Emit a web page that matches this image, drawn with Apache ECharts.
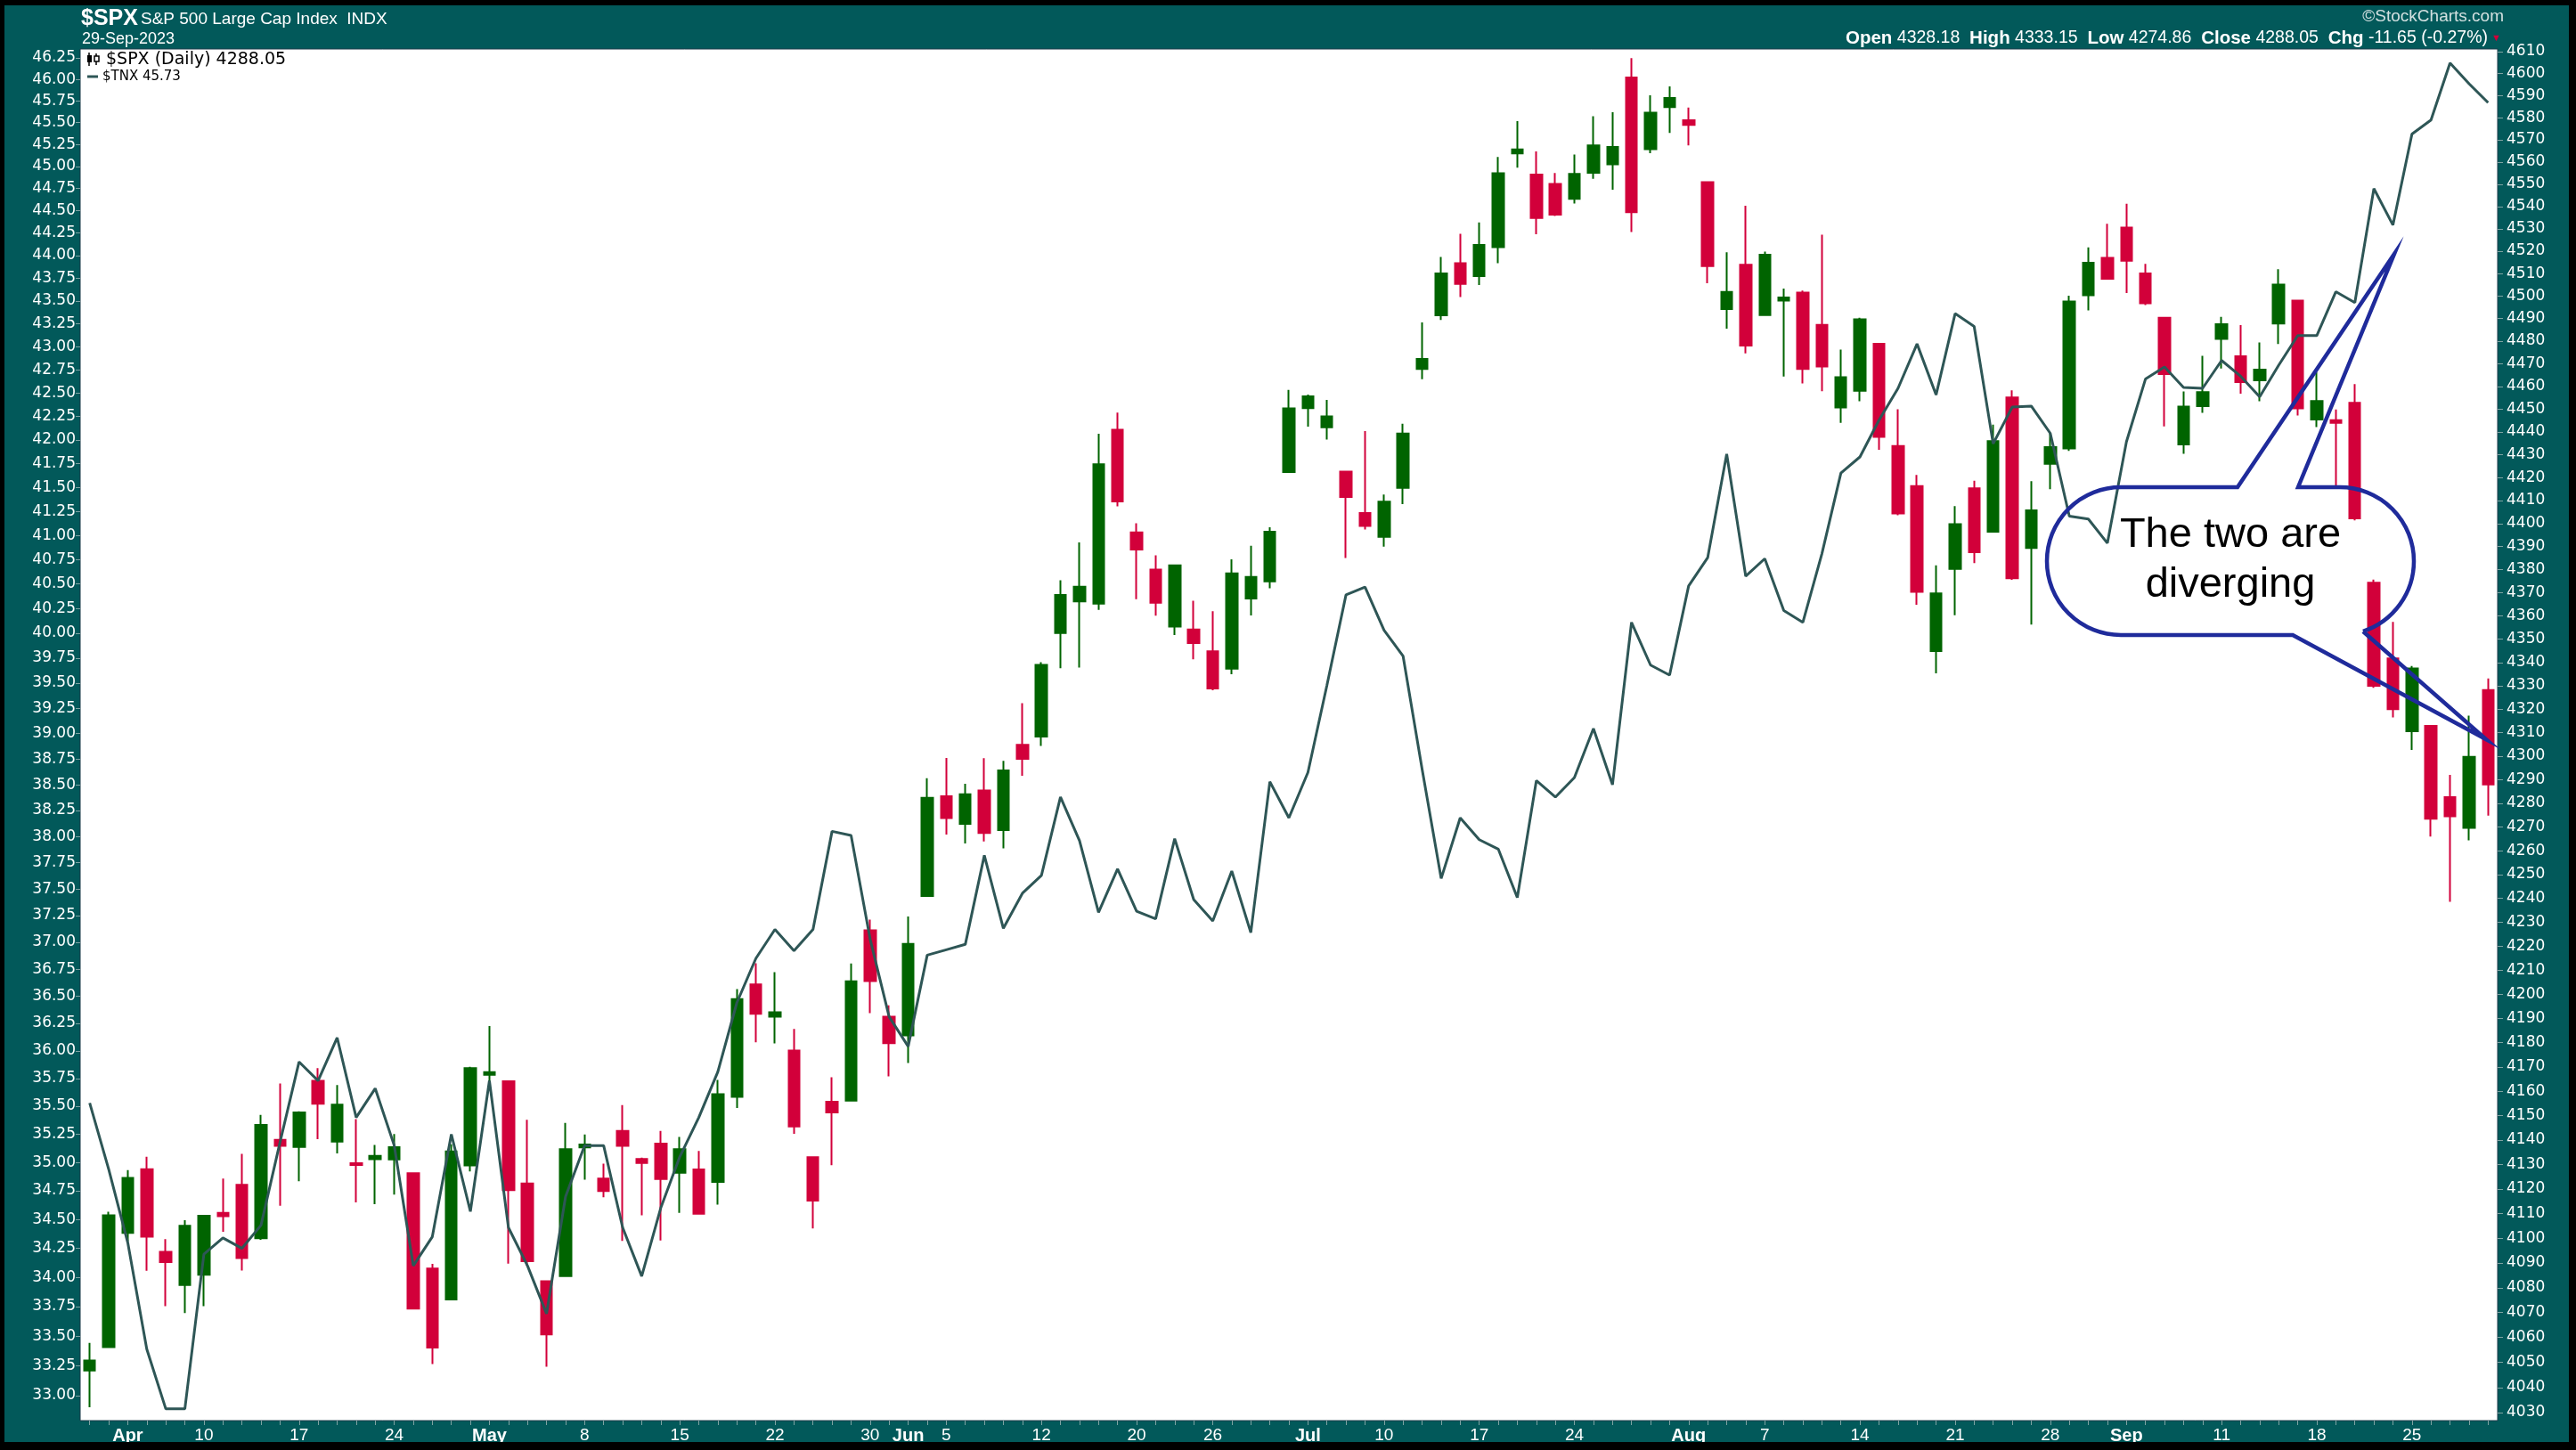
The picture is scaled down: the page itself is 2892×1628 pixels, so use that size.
<!DOCTYPE html>
<html><head><meta charset="utf-8">
<script src="https://cdn.jsdelivr.net/npm/echarts@6/dist/echarts.min.js"></script>
<style>html,body{margin:0;padding:0;background:#000;}#c{width:2892px;height:1628px;}</style>
</head><body><div id="c"></div>
<script>
const dates = ['2023-03-30','2023-03-31','2023-04-03','2023-04-04','2023-04-05','2023-04-06','2023-04-10','2023-04-11','2023-04-12','2023-04-13','2023-04-14','2023-04-17','2023-04-18','2023-04-19','2023-04-20','2023-04-21','2023-04-24','2023-04-25','2023-04-26','2023-04-27','2023-04-28',
'2023-05-01','2023-05-02','2023-05-03','2023-05-04','2023-05-05','2023-05-08','2023-05-09','2023-05-10','2023-05-11','2023-05-12','2023-05-15','2023-05-16','2023-05-17','2023-05-18','2023-05-19','2023-05-22','2023-05-23','2023-05-24','2023-05-25','2023-05-26','2023-05-30','2023-05-31',
'2023-06-01','2023-06-02','2023-06-05','2023-06-06','2023-06-07','2023-06-08','2023-06-09','2023-06-12','2023-06-13','2023-06-14','2023-06-15','2023-06-16','2023-06-20','2023-06-21','2023-06-22','2023-06-23','2023-06-26','2023-06-27','2023-06-28','2023-06-29','2023-06-30',
'2023-07-03','2023-07-05','2023-07-06','2023-07-07','2023-07-10','2023-07-11','2023-07-12','2023-07-13','2023-07-14','2023-07-17','2023-07-18','2023-07-19','2023-07-20','2023-07-21','2023-07-24','2023-07-25','2023-07-26','2023-07-27','2023-07-28','2023-07-31',
'2023-08-01','2023-08-02','2023-08-03','2023-08-04','2023-08-07','2023-08-08','2023-08-09','2023-08-10','2023-08-11','2023-08-14','2023-08-15','2023-08-16','2023-08-17','2023-08-18','2023-08-21','2023-08-22','2023-08-23','2023-08-24','2023-08-25','2023-08-28','2023-08-29','2023-08-30','2023-08-31',
'2023-09-01','2023-09-05','2023-09-06','2023-09-07','2023-09-08','2023-09-11','2023-09-12','2023-09-13','2023-09-14','2023-09-15','2023-09-18','2023-09-19','2023-09-20','2023-09-21','2023-09-22','2023-09-25','2023-09-26','2023-09-27','2023-09-28','2023-09-29'];

const spxOpen = [4046.74,4056.18,4102.20,4128.03,4094.50,4081.15,4085.20,4110.29,4121.72,4100.04,4140.11,4137.17,4164.26,4139.33,4130.48,4132.14,4132.07,4126.43,4087.78,4075.29,4129.63,
4166.79,4164.10,4122.25,4082.61,4084.73,4136.98,4124.25,4143.74,4132.24,4138.54,4126.65,4127.95,4122.85,4157.68,4204.15,4190.78,4176.80,4132.96,4155.71,4156.16,4226.71,4190.74,
4183.03,4241.01,4282.99,4271.34,4285.47,4268.69,4304.88,4308.32,4352.61,4366.29,4365.33,4440.95,4396.11,4380.01,4355.40,4354.17,4344.84,4337.36,4367.48,4374.94,4422.44,
4450.48,4442.04,4422.62,4404.54,4394.23,4415.55,4467.69,4491.50,4514.61,4508.86,4521.78,4563.87,4554.38,4550.16,4543.39,4555.19,4558.96,4598.26,4565.75,4584.82,
4578.83,4550.93,4494.27,4513.96,4491.58,4498.03,4501.57,4487.16,4450.69,4458.13,4478.87,4433.79,4416.32,4344.88,4380.28,4415.33,4396.44,4455.16,4389.38,4426.03,4432.75,4500.34,4517.01,
4530.60,4510.06,4490.35,4434.55,4451.30,4480.98,4473.27,4462.65,4487.78,4497.98,4445.41,4445.13,4452.81,4374.36,4341.74,4310.62,4312.88,4282.63,4269.65,4328.18];

const spxHigh = [4057.85,4110.75,4127.66,4133.13,4099.69,4107.32,4109.50,4124.26,4134.37,4150.26,4163.19,4151.72,4169.48,4162.57,4148.57,4138.02,4142.41,4126.43,4089.67,4138.24,4170.06,
4186.92,4164.10,4148.30,4082.61,4147.02,4142.30,4130.35,4154.28,4132.80,4143.74,4141.25,4135.54,4164.67,4202.20,4212.91,4209.22,4185.68,4132.96,4165.74,4212.87,4231.10,4195.44,
4232.43,4290.67,4299.28,4288.33,4299.19,4298.01,4322.62,4340.13,4375.37,4391.82,4439.20,4448.47,4400.15,4386.22,4382.25,4366.55,4362.06,4384.42,4390.35,4398.39,4458.48,
4456.46,4454.06,4422.62,4440.39,4412.60,4443.64,4488.34,4517.38,4527.76,4532.85,4562.30,4578.43,4564.74,4555.00,4563.41,4580.62,4582.47,4607.07,4590.16,4594.22,
4584.62,4550.93,4519.49,4540.34,4519.84,4503.31,4502.44,4527.37,4476.23,4490.33,4478.87,4449.95,4421.17,4381.82,4407.55,4418.59,4443.18,4458.30,4418.46,4439.56,4500.14,4521.65,4532.26,
4541.25,4514.29,4490.35,4457.81,4473.53,4490.77,4487.11,4479.39,4511.99,4497.98,4466.36,4449.85,4461.03,4375.70,4357.40,4338.51,4313.01,4292.07,4317.27,4333.15];

const spxLow = [4032.10,4056.18,4098.79,4086.87,4072.56,4069.84,4072.55,4102.61,4086.94,4099.40,4113.20,4123.18,4140.36,4134.49,4114.57,4113.86,4117.77,4071.38,4049.35,4075.29,4127.18,
4164.12,4089.72,4088.86,4048.28,4084.73,4123.81,4116.65,4098.92,4109.29,4099.12,4110.27,4109.86,4113.62,4153.14,4180.20,4179.68,4142.54,4103.98,4129.73,4156.16,4192.18,4166.15,
4171.64,4241.01,4266.82,4263.09,4263.96,4261.07,4291.70,4304.37,4337.54,4337.85,4362.60,4407.44,4367.19,4360.14,4351.82,4341.34,4328.08,4335.00,4360.22,4371.97,4422.44,
4442.29,4436.61,4385.05,4397.40,4389.92,4408.46,4463.23,4489.36,4499.56,4504.90,4514.59,4557.48,4527.56,4535.79,4541.29,4552.42,4547.58,4528.56,4564.01,4573.14,
4567.53,4505.75,4485.54,4474.55,4491.15,4464.39,4461.33,4457.92,4443.98,4453.44,4432.19,4403.55,4364.83,4335.31,4360.30,4382.77,4396.44,4375.55,4356.29,4414.98,4431.68,4493.59,4507.39,
4501.35,4496.01,4442.38,4430.46,4448.38,4467.89,4456.83,4453.52,4478.69,4447.21,4442.11,4416.61,4401.38,4329.17,4316.49,4302.70,4265.98,4238.63,4264.38,4274.86];

const spxClose = [4050.83,4109.31,4124.51,4100.60,4090.38,4105.02,4109.11,4108.94,4091.95,4146.22,4137.64,4151.32,4154.87,4154.52,4129.79,4133.52,4137.04,4071.63,4055.99,4135.35,4169.48,
4167.87,4119.58,4090.75,4061.22,4136.25,4138.12,4119.17,4137.64,4130.62,4124.08,4136.28,4109.90,4158.77,4198.05,4191.98,4192.63,4145.58,4115.24,4151.28,4205.45,4205.52,4179.83,
4221.02,4282.37,4273.79,4283.85,4267.52,4293.93,4298.86,4338.93,4369.01,4372.59,4425.84,4409.59,4388.71,4365.69,4381.89,4348.33,4328.82,4378.41,4376.86,4396.44,4450.38,
4455.59,4446.82,4411.59,4398.95,4409.53,4439.26,4472.16,4510.04,4505.42,4522.79,4554.98,4565.72,4534.87,4536.34,4554.64,4567.46,4566.75,4537.41,4582.23,4588.96,
4576.73,4513.39,4501.89,4478.03,4518.44,4499.38,4467.71,4468.83,4464.05,4489.72,4437.86,4404.33,4370.36,4369.71,4399.77,4387.55,4436.01,4376.31,4405.71,4433.31,4497.63,4514.87,4507.66,
4515.77,4496.83,4465.48,4451.14,4457.49,4487.46,4461.90,4467.44,4505.10,4450.32,4453.53,4443.95,4402.20,4330.00,4320.06,4337.44,4273.53,4274.51,4299.70,4288.05];

const tnx = [35.53,34.94,34.30,33.39,32.89,32.89,34.20,34.34,34.25,34.45,35.18,35.90,35.73,36.12,35.40,35.66,35.15,34.10,34.35,35.25,34.57,
35.73,34.43,34.10,33.69,34.70,35.15,35.15,34.43,34.01,34.60,35.05,35.40,35.81,36.44,36.85,37.12,36.92,37.12,38.05,38.01,37.03,36.31,
36.04,36.88,36.93,36.98,37.82,37.13,37.46,37.63,38.38,37.96,37.28,37.69,37.29,37.22,37.98,37.40,37.20,37.67,37.09,38.53,38.18,
38.62,39.48,40.39,40.47,40.03,39.77,38.65,37.60,38.18,37.97,37.88,37.42,38.54,38.38,38.57,39.05,38.50,40.11,39.68,39.58,
40.48,40.77,41.85,40.58,40.76,40.23,40.11,40.81,41.65,41.82,42.21,42.55,43.03,42.48,43.36,43.22,41.96,42.35,42.36,42.07,41.20,41.17,40.92,
41.98,42.65,42.78,42.56,42.55,42.85,42.68,42.46,42.80,43.12,43.12,43.60,43.48,44.75,44.34,45.37,45.53,46.19,45.95,45.73];

const xLabelDates = ['2023-04-03','2023-04-10','2023-04-17','2023-04-24','2023-05-01','2023-05-08','2023-05-15','2023-05-22','2023-05-30','2023-06-01','2023-06-05','2023-06-12','2023-06-20','2023-06-26','2023-07-03','2023-07-10','2023-07-17','2023-07-24','2023-08-01','2023-08-07','2023-08-14','2023-08-21','2023-08-28','2023-09-01','2023-09-11','2023-09-18','2023-09-25'];
const xLabelTexts = ['Apr','10','17','24','May','8','15','22','30','Jun','5','12','20','26','Jul','10','17','24','Aug','7','14','21','28','Sep','11','18','25'];

const leftTicks = [33.00,33.25,33.50,33.75,34.00,34.25,34.50,34.75,35.00,35.25,35.50,35.75,36.00,36.25,36.50,36.75,37.00,37.25,37.50,37.75,38.00,38.25,38.50,38.75,39.00,39.25,39.50,39.75,40.00,40.25,40.50,40.75,41.00,41.25,41.50,41.75,42.00,42.25,42.50,42.75,43.00,43.25,43.50,43.75,44.00,44.25,44.50,44.75,45.00,45.25,45.50,45.75,46.00,46.25];
const rightTicks = [4030,4040,4050,4060,4070,4080,4090,4100,4110,4120,4130,4140,4150,4160,4170,4180,4190,4200,4210,4220,4230,4240,4250,4260,4270,4280,4290,4300,4310,4320,4330,4340,4350,4360,4370,4380,4390,4400,4410,4420,4430,4440,4450,4460,4470,4480,4490,4500,4510,4520,4530,4540,4550,4560,4570,4580,4590,4600,4610];

const labelMap = {};
xLabelDates.forEach((d, i) => { labelMap[d] = xLabelTexts[i]; });
const candleData = dates.map((d, i) => [spxOpen[i], spxClose[i], spxLow[i], spxHigh[i]]);

const TEAL = '#02595a';
const AXF = '"DejaVu Sans", sans-serif';
const HF = '"Liberation Sans", Arial, sans-serif';
const BUBBLE = '#1f2b9b';

const chart = echarts.init(document.getElementById('c'), null, {renderer: 'canvas', width: 2892, height: 1628});
const option = {
  animation: false,
  backgroundColor: TEAL,
  grid: {left: 90, top: 55, width: 2714, height: 1540, show: true, backgroundColor: '#ffffff', borderColor: '#1d3b49', borderWidth: 1},
  xAxis: {
    type: 'category', data: dates, boundaryGap: true,
    axisLine: {show: false},
    axisTick: {show: true, interval: 0, alignWithLabel: true, length: 5, lineStyle: {color: '#7fa3a3', width: 1}},
    axisLabel: {
      interval: (i, v) => labelMap[v] !== undefined,
      formatter: (v) => { const t = labelMap[v] || ''; return /[A-Za-z]/.test(t) ? '{b|' + t + '}' : t; },
      margin: 7, color: '#ffffff', fontFamily: HF, fontSize: 19,
      rich: {b: {fontWeight: 'bold', color: '#ffffff', fontFamily: HF, fontSize: 20}}
    },
    splitLine: {show: false}
  },
  yAxis: [
    {type: 'log', position: 'left', min: 32.793, max: 46.354,
     axisLine: {show: false}, splitLine: {show: false},
     axisTick: {show: true, length: 5, customValues: leftTicks, lineStyle: {color: '#7fa3a3'}},
     axisLabel: {customValues: leftTicks, formatter: (v) => Number(v).toFixed(2), color: '#ffffff', fontFamily: AXF, fontSize: 17, margin: 5}},
    {type: 'log', position: 'right', min: 4026.8, max: 4611.2,
     axisLine: {show: false}, splitLine: {show: false},
     axisTick: {show: true, length: 6, customValues: rightTicks, lineStyle: {color: '#7fa3a3'}},
     axisLabel: {customValues: rightTicks, formatter: (v) => String(Math.round(v)), color: '#ffffff', fontFamily: AXF, fontSize: 17, margin: 10}}
  ],
  series: [
    {type: 'candlestick', name: '$SPX', yAxisIndex: 1, data: candleData, barWidth: 13, z: 2,
     itemStyle: {color: '#006400', color0: '#d2003a', borderColor: '#006400', borderColor0: '#d2003a', borderWidth: 2}},
    {type: 'line', name: '$TNX', yAxisIndex: 0, data: tnx, showSymbol: false, symbol: 'none', z: 3,
     lineStyle: {color: '#2e5656', width: 3}}
  ],
  graphic: [
    {type: 'rect', z: 100, silent: true, shape: {x: 0, y: 0, width: 2892, height: 6}, style: {fill: '#000'}},
    {type: 'rect', z: 100, silent: true, shape: {x: 0, y: 0, width: 5, height: 1628}, style: {fill: '#000'}},
    {type: 'rect', z: 100, silent: true, shape: {x: 2884, y: 0, width: 8, height: 1628}, style: {fill: '#000'}},
    {type: 'rect', z: 100, silent: true, shape: {x: 0, y: 1619, width: 2892, height: 9}, style: {fill: '#000'}},
    {type: 'text', z: 100, x: 91, y: 21, style: {text: '$SPX', fill: '#fff', font: 'bold 25px ' + HF, textVerticalAlign: 'middle', verticalAlign: 'middle'}},
    {type: 'text', z: 100, x: 158, y: 22, style: {text: 'S&P 500 Large Cap Index  INDX', fill: '#fff', font: '19px ' + HF, textVerticalAlign: 'middle', verticalAlign: 'middle'}},
    {type: 'text', z: 100, x: 92, y: 44, style: {text: '29-Sep-2023', fill: '#fff', font: '18px ' + HF, textVerticalAlign: 'middle', verticalAlign: 'middle'}},
    {type: 'text', z: 100, x: 2811, y: 19, style: {text: '\u00A9StockCharts.com', fill: '#d3e0e0', font: '19px ' + HF, textAlign: 'right', align: 'right', textVerticalAlign: 'middle', verticalAlign: 'middle'}},
    {type: 'text', z: 100, x: 2793, y: 43, style: {
      text: '{b|Open} 4328.18  {b|High} 4333.15  {b|Low} 4274.86  {b|Close} 4288.05  {b|Chg} -11.65 (-0.27%)',
      fill: '#fff', font: '19.5px ' + HF, textAlign: 'right', align: 'right', textVerticalAlign: 'middle', verticalAlign: 'middle',
      rich: {b: {font: 'bold 20.5px ' + HF, fill: '#fff', color: '#fff'}}}},
    {type: 'text', z: 100, x: 2797, y: 43, style: {text: '\u25BC', fill: '#d2003a', font: '11px ' + HF, textVerticalAlign: 'middle', verticalAlign: 'middle'}},
    // legend
    {type: 'line', z: 100, shape: {x1: 100, y1: 59, x2: 100, y2: 74}, style: {stroke: '#000', lineWidth: 1.5}},
    {type: 'rect', z: 100, shape: {x: 98, y: 62, width: 5, height: 8}, style: {fill: '#000'}},
    {type: 'line', z: 100, shape: {x1: 108, y1: 60, x2: 108, y2: 73}, style: {stroke: '#000', lineWidth: 1.5}},
    {type: 'rect', z: 100, shape: {x: 106, y: 63, width: 5, height: 6}, style: {fill: '#fff', stroke: '#000', lineWidth: 1.5}},
    {type: 'text', z: 100, x: 119, y: 67, style: {text: '$SPX (Daily) 4288.05', fill: '#000', font: '19px ' + AXF, textVerticalAlign: 'middle', verticalAlign: 'middle'}},
    {type: 'line', z: 100, shape: {x1: 98, y1: 86, x2: 110, y2: 86}, style: {stroke: '#2e5656', lineWidth: 3}},
    {type: 'text', z: 100, x: 115, y: 86, style: {text: '$TNX 45.73', fill: '#000', font: '15px ' + AXF, textVerticalAlign: 'middle', verticalAlign: 'middle'}},
    // callout bubble
    {type: 'arc', z: 110, shape: {cx: 2381, cy: 630, r: 83, startAngle: Math.PI / 2, endAngle: Math.PI * 1.5, clockwise: true}, style: {fill: 'none', stroke: BUBBLE, lineWidth: 4.5}},
    {type: 'arc', z: 110, shape: {cx: 2627, cy: 630, r: 83, startAngle: -Math.PI / 2, endAngle: 1.253, clockwise: true}, style: {fill: 'none', stroke: BUBBLE, lineWidth: 4.5}},
    {type: 'polyline', z: 110, shape: {points: [[2381, 547], [2512, 547], [2688, 285], [2580, 547], [2627, 547]]}, style: {fill: 'none', stroke: BUBBLE, lineWidth: 4.5, lineJoin: 'miter'}},
    {type: 'polyline', z: 110, shape: {points: [[2653, 709], [2791, 830], [2574, 713], [2381, 713]]}, style: {fill: 'none', stroke: BUBBLE, lineWidth: 4.5, lineJoin: 'miter'}},
    {type: 'text', z: 111, x: 2504, y: 629, style: {text: 'The two are\ndiverging', fill: '#000', font: '47px ' + HF, textAlign: 'center', align: 'center', textVerticalAlign: 'middle', verticalAlign: 'middle', lineHeight: 56}}
  ]
};
chart.setOption(option);
</script>
</body></html>
